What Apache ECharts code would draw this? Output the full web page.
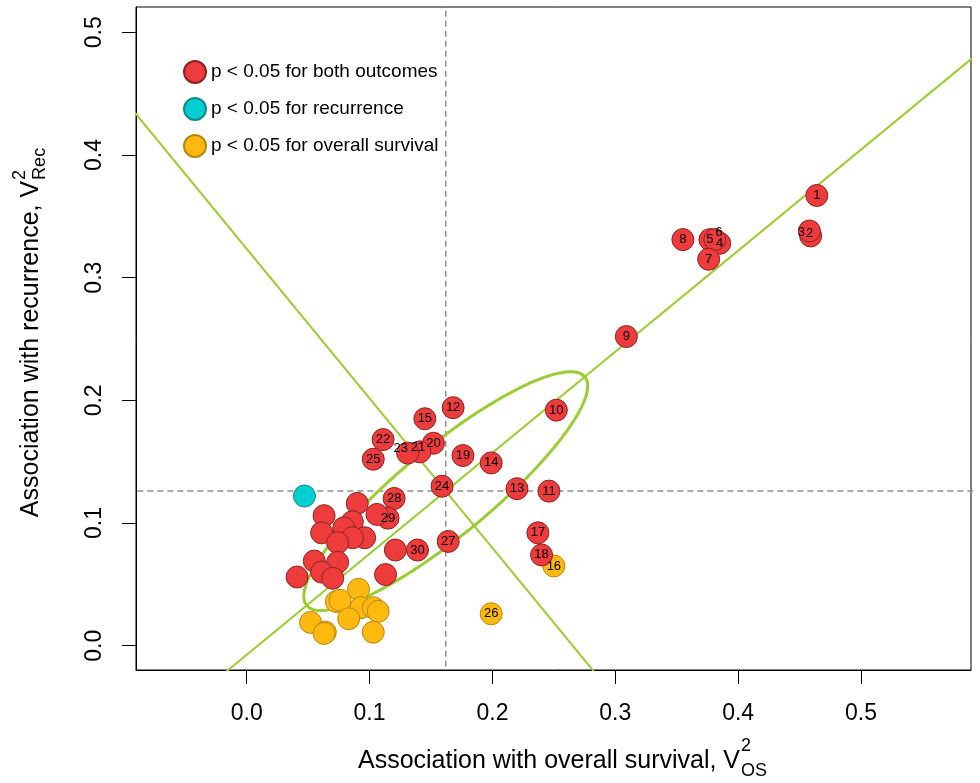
<!DOCTYPE html>
<html>
<head>
<meta charset="utf-8">
<script src="https://cdn.jsdelivr.net/npm/echarts@6/dist/echarts.min.js"></script>
<style>html,body{margin:0;padding:0;background:#fff}#c{width:980px;height:783px}</style>
</head>
<body>
<div id="c"></div>
<script>
// ---------------- DATA ----------------
// p < 0.05 for both outcomes (red)
const bothLabel = ['1','2','3','4','5','6','7','8','9','10','11','12','13','14','15','17','18','19','20','21','22','23','24','25','27','28','29','30',
  '','','','','','','','','','','','','','','',''];
const bothOS  = [0.464,0.459,0.458,0.385,0.377,0.381,0.376,0.355,0.309,0.252,0.246,0.168,0.220,0.199,0.145,0.237,0.240,0.176,0.152,0.141,0.111,0.131,0.159,0.103,0.164,0.120,0.115,0.139,
  0.090,0.063,0.106,0.086,0.061,0.079,0.096,0.086,0.074,0.121,0.055,0.074,0.061,0.070,0.041,0.113];
const bothRec = [0.367,0.334,0.338,0.328,0.331,0.331,0.315,0.331,0.252,0.192,0.126,0.194,0.128,0.149,0.185,0.092,0.074,0.155,0.165,0.158,0.168,0.157,0.130,0.152,0.085,0.120,0.104,0.078,
  0.116,0.106,0.107,0.101,0.092,0.096,0.088,0.088,0.084,0.078,0.069,0.068,0.060,0.055,0.056,0.058];
// p < 0.05 for recurrence (cyan)
const recLabel = [''];
const recOS  = [0.047];
const recRec = [0.122];
// p < 0.05 for overall survival (yellow)
const osLabel = ['16','26','','','','','','','','','','',''];
const osOS  = [0.250,0.199,0.091,0.073,0.076,0.093,0.103,0.107,0.083,0.052,0.064,0.063,0.103];
const osRec = [0.065,0.026,0.046,0.036,0.037,0.031,0.031,0.028,0.022,0.019,0.011,0.010,0.011];

const seriesNames = ['p < 0.05 for both outcomes','p < 0.05 for recurrence','p < 0.05 for overall survival'];
const xTicks = [0.0,0.1,0.2,0.3,0.4,0.5];
const yTicks = [0.0,0.1,0.2,0.3,0.4,0.5];
const xRange = [-0.0901, 0.5895];
const yRange = [-0.0198, 0.5206];
// reference lines / ellipse parameters
const meanOS = 0.162, meanRec = 0.126;
const fitSlope = 0.8235, fitIntercept = -0.0074;
const perpSlope = -1.219;
const ellipseSemiMajor = 0.1466, ellipseSemiMinor = 0.0364;
const xTitle = 'Association with overall survival, V', xSub = 'OS';
const yTitle = 'Association with recurrence, V', ySub = 'Rec';
const supText = '2';

// ---------------- STYLE / LAYOUT ----------------
const FONT = '"Liberation Sans", Arial, Helvetica, sans-serif';
const GREEN = '#9ACD32';
const labelOffsets = {'6':[4,-7],'3':[-8,1],'2':[-1,-3],'23':[-7,-5],'21':[-2,-4]};
const grid = {left:136, right:9, top:7, bottom:113};
const plotCX = (grid.left + 980 - grid.right)/2, plotCY = (grid.top + 783 - grid.bottom)/2;

function mkData(xs, ys, labs){
  return xs.map((x,i)=>{
    const d = {value:[x, ys[i]], name: labs[i] || ''};
    if (labelOffsets[labs[i]]) d.label = {offset: labelOffsets[labs[i]]};
    return d;
  });
}
function lineFrom(slope, x0, y0){
  const xa = xRange[0]-0.2, xb = xRange[1]+0.2;
  return [[xa, y0 + slope*(xa-x0)], [xb, y0 + slope*(xb-x0)]];
}
const ellipsePts = [];
(function(){
  const th = Math.atan(fitSlope), ca = Math.cos(th), sa = Math.sin(th);
  for (let k=0;k<=360;k++){
    const t = 2*Math.PI*k/360;
    const u = ellipseSemiMajor*Math.cos(t), v = ellipseSemiMinor*Math.sin(t);
    ellipsePts.push([meanOS + u*ca - v*sa, meanRec + u*sa + v*ca]);
  }
})();

const ctx = document.createElement('canvas').getContext('2d');
function tw(t, s){ ctx.font = s + 'px "Liberation Sans"'; return ctx.measureText(t).width; }
const TS = 25, SS = 18;
function titleChildren(main, sub, supOff, subOff){
  const mw = tw(main, TS);
  const st = {fill:'#000', fontFamily:FONT, align:'left', verticalAlign:'middle'};
  return {w: mw + 1 + Math.max(tw(supText,SS), tw(sub,SS)), children:[
    {type:'text', x:0, y:0, style:Object.assign({text:main, fontSize:TS}, st)},
    {type:'text', x:mw+1, y:supOff, style:Object.assign({text:supText, fontSize:SS}, st)},
    {type:'text', x:mw+1, y:subOff, style:Object.assign({text:sub, fontSize:SS}, st)}
  ]};
}
const xt = titleChildren(xTitle, xSub, -15, 10);
const yt = titleChildren(yTitle, ySub, -11, 9);

const scatterBase = {type:'scatter', symbol:'circle', symbolSize:22, z:3, silent:true,
  label:{show:true, position:'inside', formatter:p=>p.name, color:'#000', fontSize:13, fontFamily:FONT}};
const dashStyle = {color:'#8f8f8f', width:1.5, type:[6,4]};

const chart = echarts.init(document.getElementById('c'), null, {renderer:'canvas'});
chart.setOption({
  animation:false,
  backgroundColor:'#fff',
  grid:Object.assign({show:true, borderColor:'#000', borderWidth:1, backgroundColor:'transparent', containLabel:false, outerBoundsMode:'none'}, grid),
  legend:{
    data:seriesNames, orient:'vertical', left:178, top:55, itemGap:13, itemWidth:22, itemHeight:22, icon:'circle',
    textStyle:{fontSize:19, color:'#000', fontFamily:FONT}, selectedMode:false
  },
  xAxis:{type:'value', min:xRange[0], max:xRange[1], splitLine:{show:false},
    axisLine:{show:true, onZero:false, lineStyle:{color:'#000', width:1}},
    axisTick:{show:true, customValues:xTicks, length:14, lineStyle:{color:'#000', width:1}},
    axisLabel:{customValues:xTicks, formatter:v=>v.toFixed(1), fontSize:23, color:'#000', fontFamily:FONT, margin:32}},
  yAxis:{type:'value', min:yRange[0], max:yRange[1], splitLine:{show:false},
    axisLine:{show:true, onZero:false, lineStyle:{color:'#000', width:1}},
    axisTick:{show:true, customValues:yTicks, length:14, lineStyle:{color:'#000', width:1}},
    axisLabel:{customValues:yTicks, formatter:v=>v.toFixed(1), rotate:90, fontSize:23, color:'#000', fontFamily:FONT, margin:30}},
  graphic:[
    {type:'group', x:plotCX - xt.w/2 + 9, y:761, children:xt.children, silent:true},
    {type:'group', x:31, y:plotCY + yt.w/2 - 6, rotation:Math.PI/2, children:yt.children, silent:true}
  ],
  series:[
    {type:'line', data:[[meanOS, yRange[0]-1],[meanOS, yRange[1]+1]], showSymbol:false, z:1, silent:true, lineStyle:dashStyle},
    {type:'line', data:[[xRange[0]-1, meanRec],[xRange[1]+1, meanRec]], showSymbol:false, z:1, silent:true, lineStyle:dashStyle},
    {type:'line', data:lineFrom(fitSlope, 0, fitIntercept), showSymbol:false, z:1, silent:true, lineStyle:{color:GREEN, width:2}},
    {type:'line', data:lineFrom(perpSlope, meanOS, meanRec), showSymbol:false, z:1, silent:true, lineStyle:{color:GREEN, width:2}},
    {type:'line', data:ellipsePts, showSymbol:false, z:1, silent:true, lineStyle:{color:GREEN, width:3}},
    Object.assign({}, scatterBase, {name:seriesNames[2], data:mkData(osOS, osRec, osLabel),
      itemStyle:{color:'#FFB90F', borderColor:'#B8860B', borderWidth:1, opacity:1}}),
    Object.assign({}, scatterBase, {name:seriesNames[1], data:mkData(recOS, recRec, recLabel),
      itemStyle:{color:'#00CED1', borderColor:'#138A8C', borderWidth:1, opacity:1}}),
    Object.assign({}, scatterBase, {name:seriesNames[0], data:mkData(bothOS, bothRec, bothLabel),
      itemStyle:{color:'#EE3B3B', borderColor:'#8B2323', borderWidth:1, opacity:1}})
  ]
});
</script>
</body>
</html>
